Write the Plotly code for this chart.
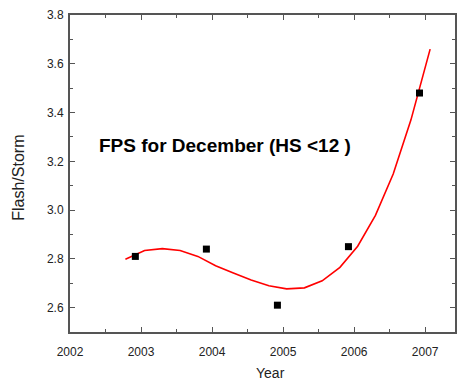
import plotly.graph_objects as go

# Measured data points
years = [2002.92, 2003.92, 2004.92, 2005.92, 2006.92]
fps = [2.81, 2.84, 2.61, 2.85, 3.48]

# Fitted (spline) curve
fit_x = [2002.78, 2003.05, 2003.30, 2003.55, 2003.80, 2004.05, 2004.30, 2004.55,
         2004.80, 2005.05, 2005.30, 2005.55, 2005.80, 2006.05, 2006.30, 2006.55,
         2006.80, 2007.07]
fit_y = [2.798, 2.834, 2.842, 2.834, 2.810, 2.772, 2.742, 2.713,
         2.690, 2.677, 2.681, 2.710, 2.765, 2.852, 2.978, 3.148,
         3.370, 3.660]

x_ticks = [2002, 2003, 2004, 2005, 2006, 2007]

fig = go.Figure()
fig.add_trace(go.Scatter(x=fit_x, y=fit_y, mode="lines",
                         line=dict(color="#ff0000", width=1.6), showlegend=False))
fig.add_trace(go.Scatter(x=years, y=fps, mode="markers",
                         marker=dict(symbol="square", size=7, color="black"),
                         showlegend=False))

axis_common = dict(showline=True, linecolor="#555555", linewidth=2, mirror="ticks",
                   ticks="inside", tickcolor="#555555", ticklen=5, tickwidth=1,
                   showgrid=False, zeroline=False,
                   tickfont=dict(family="Liberation Sans, Arial", size=12, color="#222222"))

fig.update_xaxes(range=[2002, 2007.42], tickvals=x_ticks, ticktext=[str(v) for v in x_ticks],
                 ticklabelstandoff=8,
                 minor=dict(ticks="inside", dtick=0.5, tick0=2002, ticklen=3, tickcolor="#555555"),
                 **axis_common)
fig.update_yaxes(range=[2.5, 3.8], dtick=0.2, tick0=2.6, tickformat=".1f",
                 ticklabelstandoff=2,
                 minor=dict(ticks="inside", dtick=0.1, tick0=2.5, ticklen=3, tickcolor="#555555"),
                 **axis_common)

fig.update_layout(
    width=459, height=381,
    margin=dict(l=70, r=2, t=15, b=49),
    paper_bgcolor="white", plot_bgcolor="white",
    annotations=[
        dict(text="<b>FPS for December (HS <12 )</b>", xref="paper", yref="paper",
             x=(97 - 70) / 387, y=(332 - 145) / 317, xanchor="left", yanchor="middle",
             showarrow=False, font=dict(family="Liberation Sans, Arial", size=19, color="black")),
        dict(text="Year", xref="paper", yref="paper", x=(272 - 70) / 387, y=-(372.5 - 332) / 317,
             xanchor="center", yanchor="middle", showarrow=False,
             font=dict(family="Liberation Sans, Arial", size=14, color="#222222")),
        dict(text="Flash/Storm", xref="paper", yref="paper", x=-(70 - 18) / 387,
             y=(332 - 177.5) / 317, xanchor="center", yanchor="middle", textangle=-90,
             showarrow=False, font=dict(family="Liberation Sans, Arial", size=16, color="#222222")),
    ],
)

fig.write_html("out.html")
